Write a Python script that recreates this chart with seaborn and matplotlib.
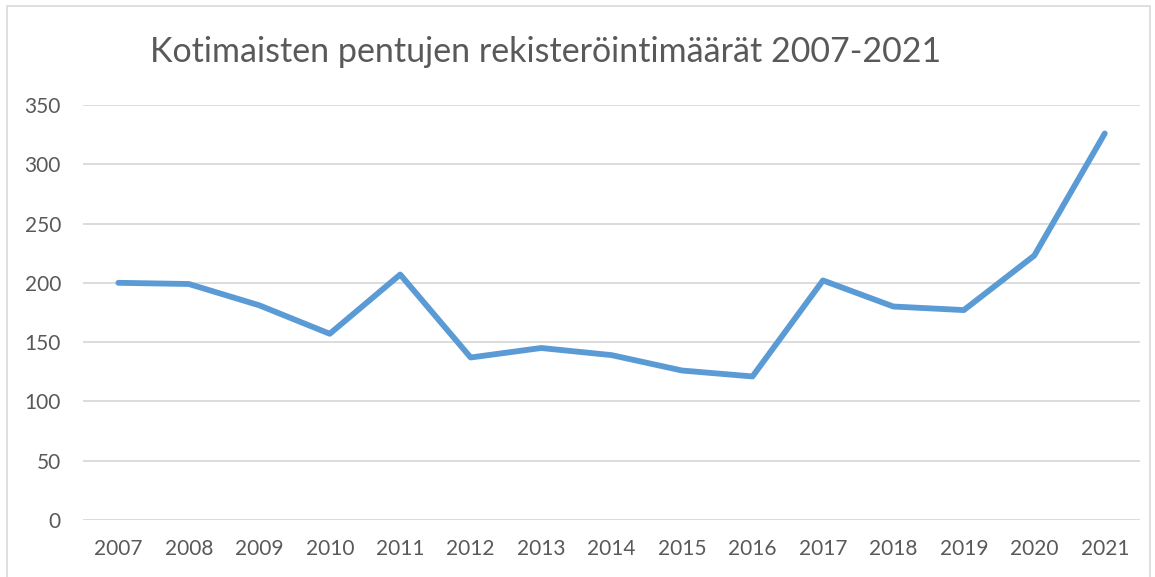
import pandas as pd
import matplotlib
matplotlib.use("Agg")
import matplotlib.pyplot as plt
import seaborn as sns
from matplotlib.patches import Rectangle

years = ["2007", "2008", "2009", "2010", "2011", "2012", "2013", "2014",
         "2015", "2016", "2017", "2018", "2019", "2020", "2021"]
registrations = [200, 199, 181, 157, 207, 137, 145, 139, 126, 121, 202, 180, 177, 223, 326]
y_ticks = [0, 50, 100, 150, 200, 250, 300, 350]

df = pd.DataFrame({"year": years, "count": registrations})

sns.set_theme(style="white")
plt.rcParams["font.family"] = ["Lato", "DejaVu Sans"]

fig = plt.figure(figsize=(11.55, 5.77), dpi=100)
ax = fig.add_axes([0.072, 0.099, 0.915, 0.719])

# line through category positions
sns.lineplot(data=df, x="year", y="count", ax=ax, color="#5B9BD5",
             linewidth=4.2, sort=False, solid_capstyle="round")

ax.set_xlim(-0.5, len(years) - 0.5)
ax.set_ylim(0, 350)
ax.set_yticks(y_ticks)
ax.yaxis.grid(True, color="#D9D9D9", linewidth=1.3)
ax.set_axisbelow(True)
for s in ax.spines.values():
    s.set_visible(False)
ax.tick_params(axis="both", length=0, labelsize=15, labelcolor="#595959")
ax.tick_params(axis="y", pad=16)
ax.tick_params(axis="x", pad=14)
ax.set_xlabel("")
ax.set_ylabel("")

fig.text(0.472, 0.91, "Kotimaisten pentujen rekisteröintimäärät 2007-2021",
         ha="center", va="center", fontsize=24.5, color="#595959")

# chart frame
fig.patches.append(Rectangle((7 / 1155, -0.02), 1143 / 1155, 1 - 6 / 577 + 0.02,
                             transform=fig.transFigure, fill=False,
                             edgecolor="#D9D9D9", linewidth=1.2))

plt.savefig("out.png", dpi=100)
plt.close()
